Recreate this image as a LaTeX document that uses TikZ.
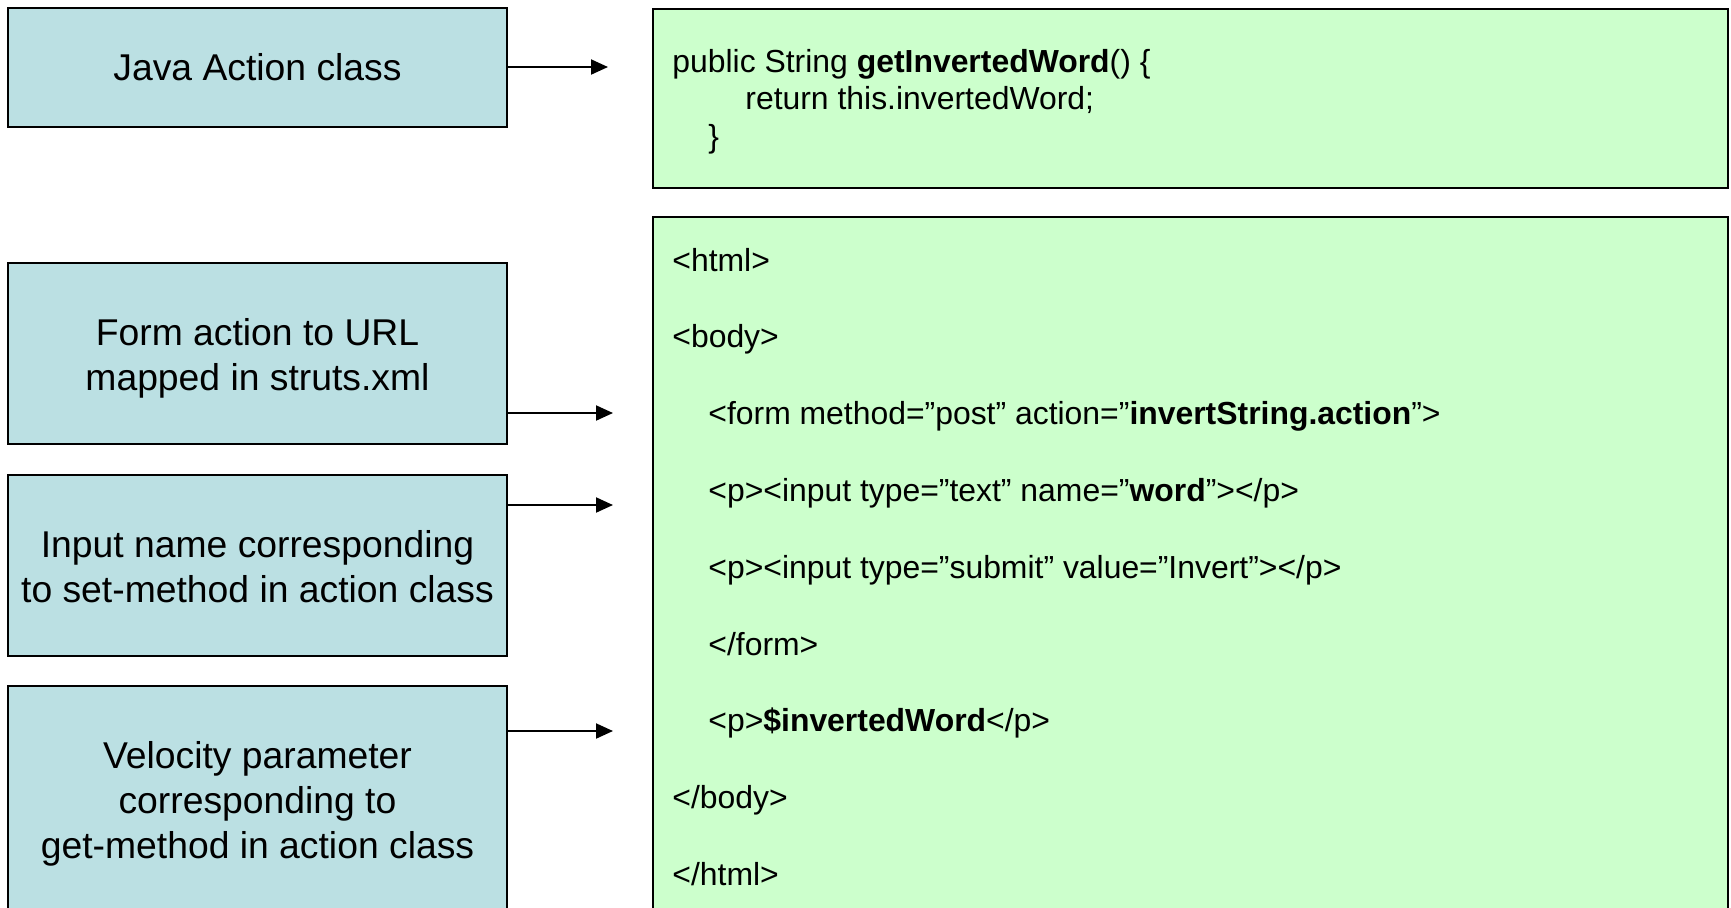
\documentclass[tikz,border=0pt]{standalone}
\usepackage{fontspec}
\setmainfont{Liberation Sans}
\usetikzlibrary{arrows.meta}
\definecolor{lblue}{HTML}{BBE0E3}
\definecolor{lgreen}{HTML}{CCFFCC}
\begin{document}
\begin{tikzpicture}[x=0.5pt,y=-0.5pt,
  lbox/.style={draw=black, line width=1pt, fill=lblue, minimum width=249.5pt, inner sep=0pt},
  ltext/.style={inner sep=0pt, align=center, font=\fontsize{18.65}{22.5}\selectfont},
  gbox/.style={draw=black, line width=1pt, fill=lgreen, minimum width=537.5pt, inner sep=0pt, anchor=north west},
  code/.style={anchor=base west, inner sep=0pt, font=\fontsize{15.95}{19}\selectfont},
  arr/.style={line width=1pt, -{Triangle[length=8.5pt,width=7.5pt]}}
]
\path[use as bounding box] (0,0) rectangle (1731,907);
\clip (0,0) rectangle (1731,907);
\node[lbox, minimum height=59.5pt] (b1) at (257.5,67.5) {};
\node[lbox, minimum height=90.5pt] (b2) at (257.5,353.5) {};
\node[lbox, minimum height=90.5pt] (b3) at (257.5,565.5) {};
\node[lbox, minimum height=114.5pt] (b4) at (257.5,800.5) {};
\node[ltext] (b1t) at (257.5,67.5) {Java Action class};
\node[ltext] (b2t) at (257.5,358) {Form action to URL\\mapped in struts.xml};
\node[ltext] (b3t) at (257.5,567) {Input name corresponding\\to set-method in action class};
\node[ltext] (b4t) at (257.5,804) {Velocity parameter\\corresponding to\\get-method in action class};
\node[gbox, minimum height=89.5pt] (g1) at (652,8) {};
\node[gbox, minimum height=349.5pt] (g2) at (652,216) {};
\node[code] (c1) at (672,72) {public String \textbf{getInvertedWord}() \{};
\node[code] (c2) at (745,109.5) {return this.invertedWord;};
\node[code] (c3) at (708,147) {\}};
\node[code] (h1) at (672,271) {<html>};
\node[code] (h2) at (672,347.8) {<body>};
\node[code] (h3) at (708,424.6) {<form method=”post” action=”\textbf{invertString.action}”>};
\node[code] (h4) at (708,501.4) {<p><input type=”text” name=”\textbf{word}”></p>};
\node[code] (h5) at (708,578.2) {<p><input type=”submit” value=”Invert”></p>};
\node[code] (h6) at (708,655) {</form>};
\node[code] (h7) at (708,731.8) {<p>\textbf{\$invertedWord}</p>};
\node[code] (h8) at (672,808.6) {</body>};
\node[code] (h9) at (672,885.4) {</html>};
\coordinate (t1) at (608,67);
\coordinate (t2) at (613,413);
\coordinate (t3) at (613,505);
\coordinate (t4) at (613,731);
\draw[arr] (b1.east |- t1) -- (t1);
\draw[arr] (b2.east |- t2) -- (t2);
\draw[arr] (b3.east |- t3) -- (t3);
\draw[arr] (b4.east |- t4) -- (t4);
\end{tikzpicture}
\end{document}
